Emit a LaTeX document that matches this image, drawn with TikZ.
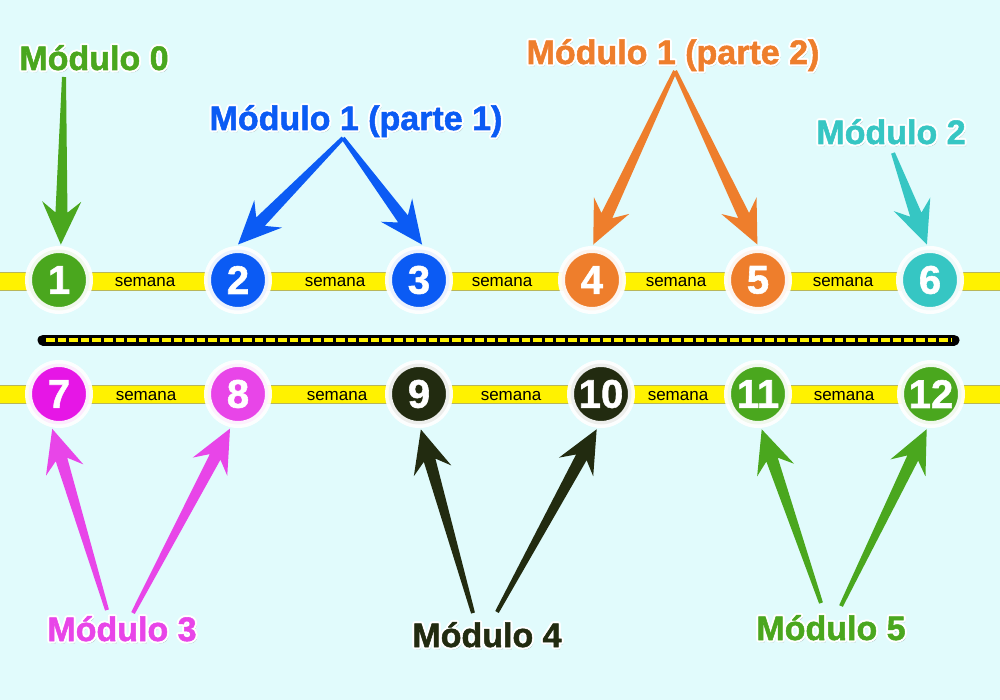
\documentclass[tikz,border=0pt]{standalone}
\usepackage{fontspec}
\setmainfont{Liberation Sans}
\newfontfamily\heavy{Liberation Sans}[BoldFeatures={FakeBold=1.5}]
\newfontfamily\numfont{Liberation Sans}[BoldFeatures={FakeBold=1.5}]
\usetikzlibrary{calc}
\definecolor{bg}{HTML}{E1FBFC}
\definecolor{mgreen}{HTML}{4AA71E}
\definecolor{mblue}{HTML}{0B5BF4}
\definecolor{morange}{HTML}{EE7E2C}
\definecolor{mteal}{HTML}{36C6C3}
\definecolor{mmag}{HTML}{E616E6}
\definecolor{mpink}{HTML}{E845E8}
\definecolor{mdark}{HTML}{222B10}
\definecolor{band}{HTML}{FFF200}
\definecolor{bandedge}{HTML}{B8B65A}
\newcommand{\fatarrow}[3]{%
  \path (#3) coordinate (fa-t) (#2) coordinate (fa-s);
  \path ($(fa-t)!32pt!(fa-s)$) coordinate (fa-h) ($(fa-t)!43pt!(fa-s)$) coordinate (fa-b);
  \fill[#1] ($(fa-s)!2pt!90:(fa-t)$) -- ($(fa-h)!6pt!90:(fa-t)$) -- ($(fa-b)!19.5pt!90:(fa-t)$)
    -- (fa-t) -- ($(fa-b)!19.5pt!-90:(fa-t)$) -- ($(fa-h)!6pt!-90:(fa-t)$) -- ($(fa-s)!2pt!-90:(fa-t)$) -- cycle;
}
\newcommand{\modlabel}[4]{%
  \node[lab,text=black,opacity=0.15] at ([shift={(1.5pt,-2pt)}]#2) {#4};
  \foreach \ang in {0,30,...,330}{\node[lab,text=white] at ([shift={(\ang:2pt)}]#2) {#4};}
  \node[lab,text=#3] (#1) at (#2) {#4};
}
\begin{document}
\begin{tikzpicture}[x=1pt,y=-1pt,
  lab/.style={font=\fontsize{34}{34}\heavy\bfseries, inner sep=0pt, anchor=base},
  num/.style={circle, draw=white, draw opacity=0.92, line width=7pt, minimum size=61pt, inner sep=0pt, outer sep=5pt,
    font=\fontsize{40}{40}\numfont\bfseries, text=white},
  wk/.style={font=\fontsize{17}{17}\selectfont, inner sep=0pt, text=black},
  bandstyle/.style={fill=band, draw=bandedge, line width=0.8pt}]
\fill[bg] (0,0) rectangle (1000,700);
\useasboundingbox (0,0) rectangle (1000,700);
% bands
\path[bandstyle] (-2,272) rectangle (1002,290);
\path[bandstyle] (-2,385.5) rectangle (1002,403.5);
% separator
\coordinate (sepL) at (43,340);
\coordinate (sepR) at (954,340);
\draw[black, line width=11pt, line cap=round] (sepL) -- (sepR);
\draw[band, line width=4.5pt, dash pattern=on 8.6pt off 3pt] ($(sepL)+(3,0)$) -- ($(sepR)+(-3,0)$);
% circles
\node[num, fill=mgreen] (c1) at (59,280) {1};
\node[num, fill=mblue] (c2) at (238,280) {2};
\node[num, fill=mblue] (c3) at (419,280) {3};
\node[num, fill=morange] (c4) at (592,280) {4};
\node[num, fill=morange] (c5) at (758,280) {5};
\node[num, fill=mteal] (c6) at (930,280) {6};
\node[num, fill=mmag] (c7) at (59,394) {7};
\node[num, fill=mpink] (c8) at (238,394) {8};
\node[num, fill=mdark] (c9) at (419,394) {9};
\node[num, fill=mdark] (c10) at (601,394) {10};
\node[num, fill=mgreen] (c11) at (758,394) {11};
\node[num, fill=mgreen] (c12) at (931,394) {12};
% semana
\node[wk] (w1) at (145,282) {semana};
\node[wk] (w2) at (335,282) {semana};
\node[wk] (w3) at (502,282) {semana};
\node[wk] (w4) at (676,282) {semana};
\node[wk] (w5) at (843,282) {semana};
\node[wk] (w6) at (146,396) {semana};
\node[wk] (w7) at (337,396) {semana};
\node[wk] (w8) at (511,396) {semana};
\node[wk] (w9) at (678,396) {semana};
\node[wk] (w10) at (844,396) {semana};
% labels
\modlabel{m0}{94,70}{mgreen}{Módulo 0}
\modlabel{m1a}{356,130}{mblue}{Módulo 1 (parte 1)}
\modlabel{m1b}{673,64}{morange}{Módulo 1 (parte 2)}
\modlabel{m2}{891,144}{mteal}{Módulo 2}
\modlabel{m3}{122,641}{mpink}{Módulo 3}
\modlabel{m4}{487,647}{mdark}{Módulo 4}
\modlabel{m5}{831,640}{mgreen}{Módulo 5}
% arrow tails
\coordinate (t0) at (64,77);
\coordinate (t1) at (343,138);
\coordinate (t1b) at (675,71);
\coordinate (t2) at (893,153);
\coordinate (t3a) at (107,610);
\coordinate (t3b) at (133,613);
\coordinate (t4a) at (473,613);
\coordinate (t4b) at (497,612);
\coordinate (t5a) at (821,603);
\coordinate (t5b) at (841,606);
% arrows
\fatarrow{mgreen}{t0}{c1.87}
\fatarrow{mblue}{t1}{c2.90}
\fatarrow{mblue}{t1}{c3.85}
\fatarrow{morange}{t1b}{c4.88}
\fatarrow{morange}{t1b}{c5.91}
\fatarrow{mteal}{t2}{c6.95}
\fatarrow{mpink}{t3a}{c7.259}
\fatarrow{mpink}{t3b}{c8.257}
\fatarrow{mdark}{t4a}{c9.273}
\fatarrow{mdark}{t4b}{c10.263}
\fatarrow{mgreen}{t5a}{c11.276}
\fatarrow{mgreen}{t5b}{c12.263}
\end{tikzpicture}
\end{document}
